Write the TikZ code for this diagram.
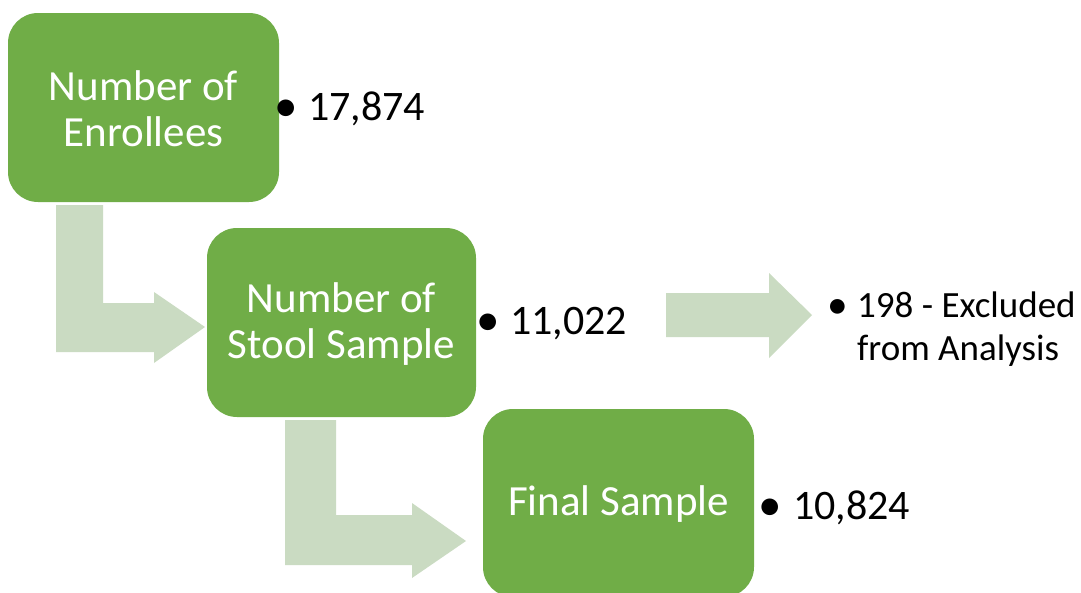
\documentclass[tikz,border=0pt]{standalone}
\usepackage{fontspec}
\setmainfont{Carlito}
\definecolor{boxgreen}{HTML}{70AD47}
\definecolor{arrowgreen}{HTML}{CADBC2}
\newcommand{\bigdot}{\raisebox{-0.03em}{\scalebox{1.12}{•}}}
\begin{document}
\begin{tikzpicture}[x=1pt,y=-1pt,
  stepbox/.style={fill=boxgreen, draw=none, rounded corners=30pt, inner sep=0pt},
  boxtext/.style={text=white, align=center, font=\fontsize{43}{46}\selectfont, inner sep=0pt},
  bigbullet/.style={anchor=base west, inner sep=0pt, font=\fontsize{42}{46}\selectfont},
  smallbullet/.style={anchor=base west, inner sep=0pt, font=\fontsize{37}{43}\selectfont},
  fatarrow/.style={fill=arrowgreen, draw=none}]
\useasboundingbox (0,0) rectangle (1081,592);
\clip (0,0) rectangle (1081,592);
% arrows
\fill[fatarrow] (56,205) -- (103,205) -- (103,303) -- (154,303) -- (154,292) -- (205,327) -- (154,363) -- (154,352) -- (56,352) -- cycle;
\fill[fatarrow] (285,420) -- (336,420) -- (336,515) -- (412,515) -- (412,503) -- (466,541) -- (412,578) -- (412,565) -- (285,565) -- cycle;
\fill[fatarrow] (666,293) -- (769,293) -- (769,273) -- (812,315) -- (769,358) -- (769,337) -- (666,337) -- cycle;
% boxes
\fill[stepbox] (8,13) rectangle (279,202);
\fill[stepbox] (207,228) rectangle (476,417);
\fill[stepbox] (483,409) rectangle (754,597);
\node[boxtext] (t1) at (143.5,109) {Number of\\Enrollees};
\node[boxtext] (t2) at (341.5,324) {Number of\\Stool Sample};
\node[boxtext] (t3) at (618.5,504) {Final Sample};
% bullet texts
\node[bigbullet] (b1) at (274,120) {\makebox[34pt][l]{\bigdot}17,874};
\node[bigbullet] (b2) at (476,334) {\makebox[34pt][l]{\bigdot}11,022};
\node[bigbullet] (b3) at (758,519) {\makebox[35pt][l]{\bigdot}10,824};
\node[smallbullet] (e1) at (827,317) {\makebox[30pt][l]{\bigdot}198 - Excluded};
\node[smallbullet] (e2) at (857,360) {from Analysis};
\end{tikzpicture}
\end{document}
